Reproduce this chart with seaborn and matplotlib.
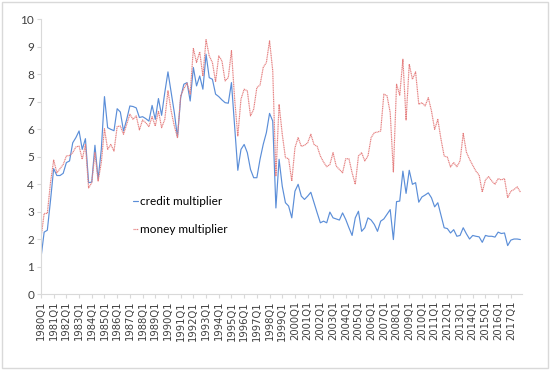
import matplotlib
matplotlib.use("Agg")
import pandas as pd
import matplotlib.pyplot as plt
import seaborn as sns
from matplotlib.patches import Rectangle

# quarters 1980Q1 .. 2017Q4
years = list(range(1980, 2018))
quarters = [f"{y}Q{q}" for y in years for q in range(1, 5)]
tick_labels = [f"{y}Q1" for y in years]

credit_multiplier = [
    1.31, 2.25, 2.32, 3.4, 4.56, 4.31, 4.31, 4.39, 4.78, 4.84, 5.5, 5.69, 5.93, 5.26, 5.65, 4.05,
    4.07, 5.41, 4.17, 5.26, 7.18, 6.05, 5.99, 5.94, 6.74, 6.62, 5.93, 6.35, 6.84, 6.82, 6.77, 6.42,
    6.45, 6.38, 6.29, 6.86, 6.35, 7.11,
    6.5, 7.33, 8.08, 7.33, 6.6, 5.7, 7.14, 7.63, 7.69, 7.02, 8.24, 7.57, 7.93, 7.45, 8.72, 7.87,
    7.81, 7.27, 7.18, 7.06, 6.96, 6.94, 7.69, 6.1, 4.5,
    5.26, 5.44, 5.14, 4.53, 4.23, 4.23, 4.9, 5.44, 5.87, 6.57, 6.29,
    3.13, 4.9, 3.92, 3.32, 3.2, 2.77, 3.74, 3.99, 3.56, 3.44, 3.56, 3.7, 3.32, 2.95, 2.59, 2.65,
    2.59, 2.98, 2.77, 2.73, 2.69, 2.95, 2.71, 2.41, 2.13, 2.77, 3.01, 2.28, 2.41, 2.77, 2.69, 2.53,
    2.28, 2.65, 2.73, 2.9, 3.07, 1.98, 3.36,
    3.38, 4.47, 3.66, 4.5, 3.99, 4.05, 3.34, 3.53, 3.6, 3.68, 3.5, 3.17, 3.32, 2.86, 2.41, 2.38,
    2.22, 2.34, 2.1, 2.13, 2.41, 2.19, 2.0, 2.13, 2.1, 2.08, 1.88, 2.13, 2.1, 2.1, 2.07, 2.25,
    2.2, 2.22, 1.76, 1.96, 2.0, 2.0, 1.98,
]

money_multiplier = [
    2.04, 2.93, 2.93, 4.05, 4.87, 4.41, 4.56, 4.71, 5.02, 5.04, 5.14, 5.35, 5.38, 4.9, 5.44, 3.86,
    4.05, 5.14, 4.11, 4.78, 6.01, 5.26, 5.44, 5.2, 6.09, 6.11, 5.81, 6.17, 6.54, 6.35, 6.48, 5.97,
    6.33, 6.23, 6.09, 6.45, 6.11, 6.66,
    6.05, 6.35, 7.39, 6.66, 6.11, 5.69, 7.21, 7.47, 7.67, 7.27, 8.93, 8.42, 8.81, 7.93, 9.25, 8.66,
    8.42, 7.72, 8.66, 8.48, 7.75, 7.87, 8.85, 7.09, 5.75, 7.09, 7.45, 7.39, 6.48, 6.72, 7.51, 7.6,
    8.24, 8.42, 9.21, 8.12, 4.3, 6.9,
    5.81, 4.96, 4.92, 4.11, 5.32, 5.69, 5.37, 5.41, 5.5, 5.81, 5.44, 5.37, 5.02, 4.8, 4.63, 4.71,
    5.14, 4.65, 4.53, 4.41, 4.92, 4.92, 4.41, 3.99, 5.02, 5.14, 4.84, 5.02, 5.69, 5.87, 5.89, 5.93,
    7.27, 7.21, 6.6, 4.44,
    7.63, 7.23, 8.54, 6.33, 8.36, 7.81, 8.08, 6.9, 6.96, 6.84, 7.14, 6.66, 5.99, 6.35, 5.63, 5.02,
    4.98, 4.62, 4.78, 4.63, 4.84, 5.84, 5.16, 4.9, 4.68, 4.47, 4.33, 3.71, 4.15, 4.27, 4.11, 3.99,
    4.2, 4.15, 4.2, 3.5, 3.74, 3.8, 3.9, 3.71,
]

df = pd.DataFrame({
    "quarter": quarters,
    "t": range(len(quarters)),
    "credit": credit_multiplier,
    "money": money_multiplier,
})

sns.set_theme(style="white")
plt.rcParams['font.family'] = ['DejaVu Sans']

fig = plt.figure(figsize=(5.5, 3.7), dpi=100)
# light outer border like the spreadsheet chart frame
fig.patches.append(Rectangle((0.004, 0.005), 0.992, 0.99, transform=fig.transFigure,
                             fill=False, edgecolor="#D9D9D9", lw=1.0))

ax = fig.add_axes([0.0745, 0.2054, 0.8745, 0.743])
sns.lineplot(data=df, x="t", y="credit", color="#5B8ED8", lw=0.85, ax=ax,
             label="credit multiplier")
sns.lineplot(data=df, x="t", y="money", color="#E57F7F", lw=0.85, linestyle=(0, (1, 0.5)),
             ax=ax, label="money multiplier")

ax.set_xlim(0, 151.5)
ax.set_ylim(0, 10)
ax.set_xticks(range(0, len(quarters), 4))
ax.set_xticklabels(tick_labels, rotation=90, fontsize=7.2, color="#404040")
ax.set_yticks(range(0, 11))
ax.set_yticklabels([str(v) for v in range(0, 11)], fontsize=8.5, family="Lato", color="#404040")
ax.set_xlabel("")
ax.set_ylabel("")

for side in ["top", "right"]:
    ax.spines[side].set_visible(False)
for side in ["left", "bottom"]:
    ax.spines[side].set_color("#D9D9D9")
    ax.spines[side].set_linewidth(0.8)
ax.tick_params(axis="both", which="major", length=3, width=0.8, color="#D9D9D9", pad=2,
               bottom=True, left=True)

leg = ax.legend(loc="center left", bbox_to_anchor=(0.191, 0.285), frameon=False,
                handlelength=0.4, handletextpad=0.2, labelspacing=1.45, borderpad=0,
                borderaxespad=0, prop={"family": "Lato", "size": 8.5})
for txt in leg.get_texts():
    txt.set_color("#000000")

fig.savefig("out.png", dpi=100)
